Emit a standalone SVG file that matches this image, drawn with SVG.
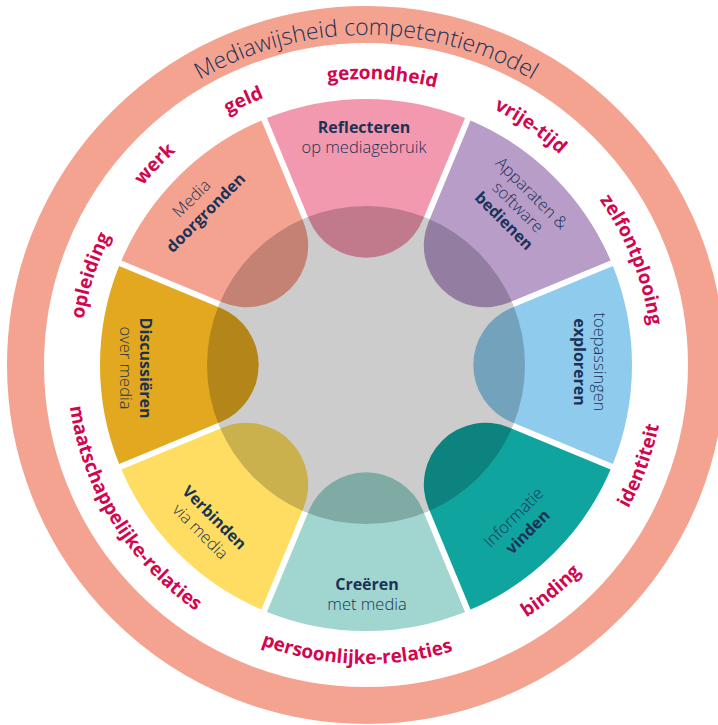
<svg xmlns="http://www.w3.org/2000/svg" xmlns:xlink="http://www.w3.org/1999/xlink" width="718" height="725" viewBox="0 0 718 725">
  <style>
    text { font-family: "Open Sans", "Liberation Sans", sans-serif; }
    .lbl { fill: #1b3256; text-anchor: middle; }
    .lt { font-weight: 300; font-size: 16.5px; }
    .bd { font-weight: 700; font-size: 16px; }
    .theme { font-weight: 700; font-size: 19px; fill: #d2064f; text-anchor: middle; }
    .title { font-weight: 300; font-size: 23px; fill: #1b3256; text-anchor: middle; }
  </style>
  <defs>
    <!-- one segment pointing up: outer arc r=266, rounded inner lobe r=61.67 centred 169 from the middle -->
    <path id="seg" d="M309.02,219.6 L266.98,118.11 A266,266 0 0 1 465.02,118.11 L422.98,219.6 A61.67,61.67 0 0 1 309.02,219.6 Z"/>
    <!-- clockwise circles start at the bottom, counter-clockwise ones at the top -->
    <path id="arcTitle" d="M366,695 A330,330 0 1 1 366,35 A330,330 0 1 1 366,695"/>
    <path id="arcTop" d="M366,651 A286,286 0 1 1 366,79 A286,286 0 1 1 366,651"/>
    <path id="arcBottom" d="M366,66 A299,299 0 1 0 366,664 A299,299 0 1 0 366,66"/>
  </defs>

  <rect width="718" height="725" fill="#ffffff"/>

  <!-- outer band with the title -->
  <g id="ring">
    <circle cx="366" cy="365" r="340.5" fill="none" stroke="#f4a391" stroke-width="37"/>
    <text class="title"><textPath href="#arcTitle" startOffset="50%">Mediawijsheid competentiemodel</textPath></text>
  </g>

  <!-- life domains around the wheel -->
  <g id="domains">
    <text class="theme"><textPath href="#arcTop" startOffset="30%">opleiding</textPath></text>
    <text class="theme"><textPath href="#arcTop" startOffset="37.1%">werk</textPath></text>
    <text class="theme"><textPath href="#arcTop" startOffset="43.1%">geld</textPath></text>
    <text class="theme"><textPath href="#arcTop" startOffset="50.9%">gezondheid</textPath></text>
    <text class="theme"><textPath href="#arcTop" startOffset="59.6%">vrije-tijd</textPath></text>
    <text class="theme"><textPath href="#arcTop" startOffset="69%">zelfontplooing</textPath></text>
    <text class="theme"><textPath href="#arcBottom" startOffset="33.8%">maatschappelijke-relaties</textPath></text>
    <text class="theme"><textPath href="#arcBottom" startOffset="49.5%">persoonlijke-relaties</textPath></text>
    <text class="theme"><textPath href="#arcBottom" startOffset="60.9%">binding</textPath></text>
    <text class="theme"><textPath href="#arcBottom" startOffset="69.4%">identiteit</textPath></text>
  </g>

  <!-- competence segments -->
  <g id="reflecteren">
    <use href="#seg" fill="#f299b0"/>
    <text class="lbl" transform="translate(364,138)"><tspan class="bd" x="0" y="-5">Reflecteren</tspan><tspan class="lt" x="0" y="15">op mediagebruik</tspan></text>
  </g>
  <g id="bedienen">
    <use href="#seg" fill="#b89dc9" transform="rotate(45 366 365)"/>
    <text class="lbl" transform="translate(517.5,207.5) rotate(45)"><tspan class="lt" x="0" y="-14.5">Apparaten &amp;</tspan><tspan class="lt" x="0" y="5">software</tspan><tspan class="bd" x="0" y="24.5">bedienen</tspan></text>
  </g>
  <g id="exploreren">
    <use href="#seg" fill="#8fcbec" transform="rotate(90 366 365)"/>
    <text class="lbl" transform="translate(588.5,362) rotate(90)"><tspan class="lt" x="0" y="-5">toepassingen</tspan><tspan class="bd" x="0" y="15">exploreren</tspan></text>
  </g>
  <g id="vinden">
    <use href="#seg" fill="#10a49f" transform="rotate(135 366 365)"/>
    <text class="lbl" transform="translate(521,525) rotate(-45)"><tspan class="lt" x="0" y="-5">Informatie</tspan><tspan class="bd" x="0" y="15">vinden</tspan></text>
  </g>
  <g id="creeren">
    <use href="#seg" fill="#a0d6cf" transform="rotate(180 366 365)"/>
    <text class="lbl" transform="translate(367,594.5)"><tspan class="bd" x="0" y="-5">Creëren</tspan><tspan class="lt" x="0" y="15">met media</tspan></text>
  </g>
  <g id="verbinden">
    <use href="#seg" fill="#fedd62" transform="rotate(225 366 365)"/>
    <text class="lbl" transform="translate(207,525) rotate(45)"><tspan class="bd" x="0" y="-5">Verbinden</tspan><tspan class="lt" x="0" y="15">via media</tspan></text>
  </g>
  <g id="discussieren">
    <use href="#seg" fill="#e2a820" transform="rotate(270 366 365)"/>
    <text class="lbl" transform="translate(134.5,368) rotate(90)"><tspan class="bd" x="0" y="-5">Discussiëren</tspan><tspan class="lt" x="0" y="15">over media</tspan></text>
  </g>
  <g id="doorgronden">
    <use href="#seg" fill="#f4a391" transform="rotate(315 366 365)"/>
    <text class="lbl" transform="translate(199,206) rotate(-45)"><tspan class="lt" x="0" y="-5">Media</tspan><tspan class="bd" x="0" y="15">doorgronden</tspan></text>
  </g>

  <!-- translucent core darkens the segment lobes it covers -->
  <circle id="core" cx="366" cy="365" r="159" fill="#000" fill-opacity="0.2"/>
</svg>
